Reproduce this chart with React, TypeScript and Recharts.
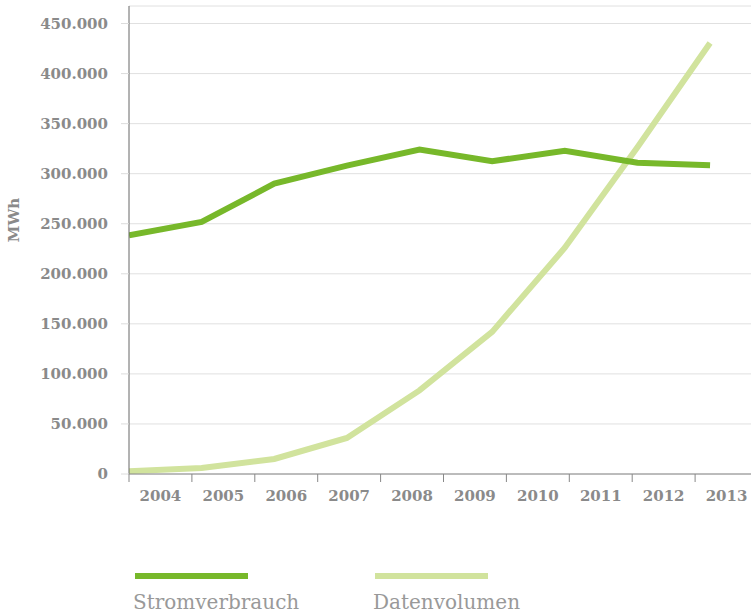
import React from 'react';
import { LineChart, Line, XAxis, YAxis, CartesianGrid, Legend } from 'recharts';

const years = ['2004', '2005', '2006', '2007', '2008', '2009', '2010', '2011', '2012', '2013'];
const yTicks = [0, 50000, 100000, 150000, 200000, 250000, 300000, 350000, 400000, 450000];
const stromverbrauch = [238500, 251800, 290000, 308000, 324000, 312500, 322800, 311000, 308500];
const datenvolumen = [2800, 6000, 15000, 36000, 83500, 142000, 226000, 326500, 430500];
const seriesNames = ['Stromverbrauch', 'Datenvolumen'];
const seriesColors = ['#77b82a', '#d1e39d'];

// The nine data points span a little less than the ten year bands of the axis
const X_MAX = 8.66;
const BAND = X_MAX / years.length;

const data = stromverbrauch.map((v, i) => ({ idx: i, strom: v, daten: datenvolumen[i] }));
const boundaryTicks = [...years.map((_, i) => i * BAND), years.length * BAND];
const centerTicks = years.map((_, i) => (i + 0.5) * BAND);
const allTicks = [...boundaryTicks, ...centerTicks].sort((a, b) => a - b);

const FONT = "'DejaVu Serif', serif";
const GRAY = '#8a8a8a';

const fmt = (v: number) => {
  if (v === 0) return '0';
  return `${Math.floor(v / 1000)}.${String(v % 1000).padStart(3, '0')}`;
};

const XTick = (props: any) => {
  const { x, y, payload } = props;
  const v = payload.value as number;
  const k = v / BAND;
  const isBoundary = Math.abs(k - Math.round(k)) < 1e-6;
  if (isBoundary) {
    return <line x1={x} x2={x} y1={y} y2={y + 8} stroke="#888" strokeWidth={1} />;
  }
  return (
    <text
      x={x}
      y={y + 16}
      dy="0.71em"
      textAnchor="middle"
      fill={GRAY}
      fontSize={15}
      fontWeight="bold"
      fontFamily={FONT}
    >
      {years[Math.floor(k)]}
    </text>
  );
};

const LegendContent = () => (
  <svg width={751} height={51} style={{ display: 'block' }}>
    {seriesNames.map((n, i) => (
      <g key={n}>
        <rect x={135 + i * 240} y={13} width={113} height={6} fill={seriesColors[i]} />
        <text x={133 + i * 240} y={49} fill="#999" fontSize={20} fontFamily="'DejaVu Serif', serif">
          {n}
        </text>
      </g>
    ))}
  </svg>
);

export default function App() {
  return (
    <div style={{ position: 'absolute', left: 0, top: 0, width: 751, height: 611, overflow: 'hidden', background: '#fff' }}>
      <LineChart width={758} height={611} data={data} margin={{ top: 6, right: 0, bottom: 107, left: 0 }}>
        <CartesianGrid vertical={false} stroke="#e0e0e0" strokeWidth={1} />
        <YAxis
          type="number"
          domain={[0, 467500]}
          ticks={yTicks}
          allowDataOverflow
          width={129}
          tickSize={8}
          tickMargin={13}
          tickFormatter={fmt}
          axisLine={{ stroke: '#666' }}
          tickLine={{ stroke: '#dcdcdc' }}
          tick={{ fill: GRAY, fontSize: 15, fontWeight: 'bold', fontFamily: FONT }}
          label={() => (
            <text
              x={14}
              y={220}
              transform="rotate(-90, 14, 220)"
              textAnchor="middle"
              dominantBaseline="central"
              fill={GRAY}
              fontSize={15}
              fontWeight="bold"
              fontFamily={FONT}
            >
              MWh
            </text>
          )}
        />
        <XAxis
          type="number"
          dataKey="idx"
          domain={[0, X_MAX]}
          allowDataOverflow
          ticks={allTicks}
          interval={0}
          height={30}
          tickSize={0}
          tickMargin={0}
          axisLine={{ stroke: '#888' }}
          tickLine={false}
          tick={<XTick />}
        />
        <Line
          type="linear"
          dataKey="daten"
          name={seriesNames[1]}
          stroke={seriesColors[1]}
          strokeWidth={6}
          dot={false}
          activeDot={false}
          isAnimationActive={false}
        />
        <Line
          type="linear"
          dataKey="strom"
          name={seriesNames[0]}
          stroke={seriesColors[0]}
          strokeWidth={6}
          dot={false}
          activeDot={false}
          isAnimationActive={false}
        />
        <Legend
          verticalAlign="middle"
          align="center"
          layout="horizontal"
          wrapperStyle={{ top: 560, left: 0, width: 751, height: 51 }}
          content={() => <LegendContent />}
        />
      </LineChart>
    </div>
  );
}
